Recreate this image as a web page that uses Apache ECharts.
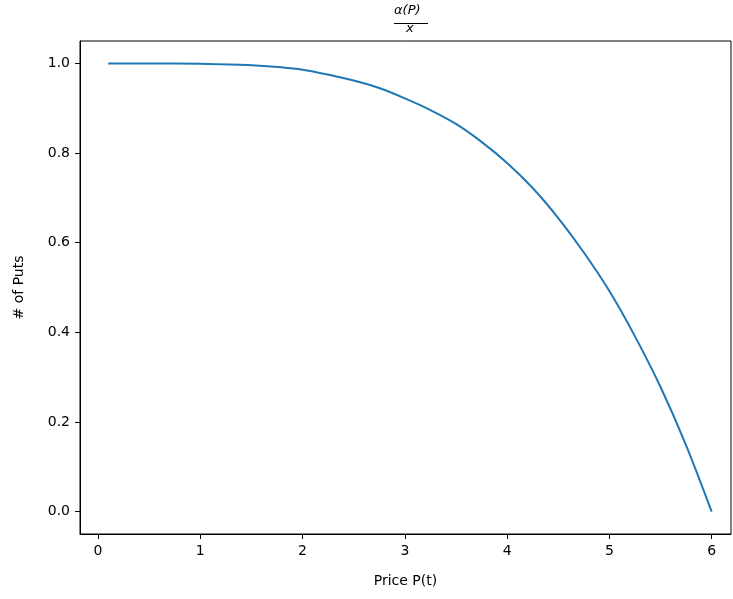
<!DOCTYPE html>
<html>
<head>
<meta charset="utf-8">
<script src="https://cdn.jsdelivr.net/npm/echarts@6/dist/echarts.min.js"></script>
<style>
html,body{margin:0;padding:0;background:#fff;}
#chart{width:733px;height:599px;}
</style>
</head>
<body>
<div id="chart"></div>
<script>
// Data
const priceValues = [0.1, 0.5, 1.0, 1.5, 2.0, 2.5, 2.75, 3.0, 3.25, 3.5, 3.75, 4.0, 4.25, 4.5, 4.75, 5.0, 5.25, 5.5, 5.75, 6.0];
const putsValues  = [1.0, 1.0, 0.999, 0.996, 0.986, 0.962, 0.945, 0.922, 0.896, 0.865, 0.825, 0.778, 0.722, 0.655, 0.578, 0.492, 0.391, 0.278, 0.148, 0.0];
const xTickValues = [0, 1, 2, 3, 4, 5, 6];
const yTickValues = [0.0, 0.2, 0.4, 0.6, 0.8, 1.0];
const titleNumerator = 'α(P)';
const titleDenominator = 'x';
const xAxisName = 'Price P(t)';
const yAxisName = '# of Puts';

const seriesData = priceValues.map((p, i) => [p, putsValues[i]]);
const FONT = 'DejaVu Sans';

const chart = echarts.init(document.getElementById('chart'), null, {renderer: 'canvas'});
chart.setOption({
  animation: false,
  backgroundColor: '#ffffff',
  grid: {
    left: 80, top: 41, width: 651, height: 493,
    show: true, borderColor: '#000000', borderWidth: 1, backgroundColor: 'transparent'
  },
  xAxis: {
    type: 'value',
    min: -0.176, max: 6.189,
    name: xAxisName,
    nameLocation: 'middle',
    nameGap: 40,
    nameTextStyle: {fontFamily: FONT, fontSize: 14, color: '#000'},
    axisLine: {show: true, onZero: false, lineStyle: {color: '#000', width: 1}},
    axisTick: {show: true, length: 5, inside: false, customValues: xTickValues, lineStyle: {color: '#000', width: 1}},
    axisLabel: {customValues: xTickValues, margin: 10, fontFamily: FONT, fontSize: 14, color: '#000',
      formatter: v => String(Math.round(v))},
    splitLine: {show: false}
  },
  yAxis: {
    type: 'value',
    min: -0.05, max: 1.05,
    name: yAxisName,
    nameLocation: 'middle',
    nameGap: 54,
    nameTextStyle: {fontFamily: FONT, fontSize: 14, color: '#000'},
    axisLine: {show: true, onZero: false, lineStyle: {color: '#000', width: 1}},
    axisTick: {show: true, length: 5, inside: false, customValues: yTickValues, lineStyle: {color: '#000', width: 1}},
    axisLabel: {customValues: yTickValues, margin: 10, fontFamily: FONT, fontSize: 14, color: '#000',
      formatter: v => v.toFixed(1)},
    splitLine: {show: false}
  },
  graphic: [
    {type: 'text', left: 394, top: 4, style: {text: titleNumerator, font: 'italic 13px "DejaVu Sans"', fill: '#000'}},
    {type: 'line', shape: {x1: 394, y1: 23.5, x2: 428, y2: 23.5}, style: {stroke: '#000', lineWidth: 1}},
    {type: 'text', left: 406, top: 22, style: {text: titleDenominator, font: 'italic 13px "DejaVu Sans"', fill: '#000'}}
  ],
  series: [{
    type: 'line',
    data: seriesData,
    showSymbol: false,
    smooth: 0.3,
    lineStyle: {color: '#1f77b4', width: 2},
    itemStyle: {color: '#1f77b4'}
  }]
});
</script>
</body>
</html>
